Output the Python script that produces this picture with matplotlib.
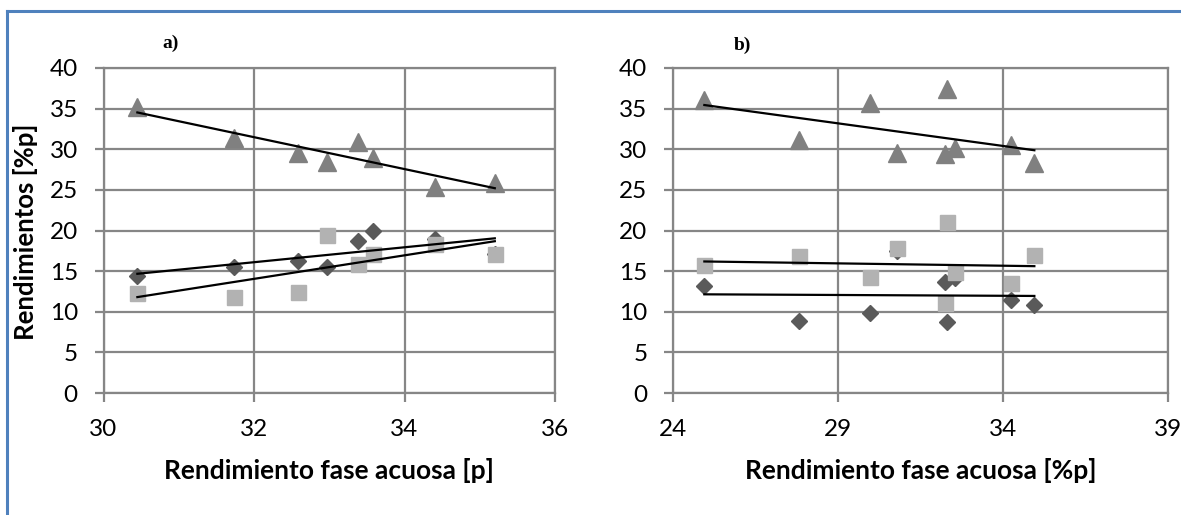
import numpy as np
import matplotlib
matplotlib.use("Agg")
import matplotlib.pyplot as plt
from matplotlib.lines import Line2D

# ---- data: panel a ----
xa = [30.45, 31.73, 32.58, 32.97, 33.38, 33.58, 34.41, 35.2]
tri_a = [35.2, 31.4, 29.6, 28.4, 30.9, 28.9, 25.3, 25.9]
dia_a = [14.4, 15.5, 16.2, 15.5, 18.7, 20.0, 19.0, 17.1]
sq_a = [12.3, 11.8, 12.4, 19.5, 15.9, 17.1, 18.3, 17.1]

# ---- data: panel b ----
xb = [24.95, 27.83, 29.98, 30.8, 32.3, 32.25, 32.55, 34.25, 34.95]
tri_b = [36.1, 31.2, 35.7, 29.5, 37.4, 29.4, 30.1, 30.5, 28.3]
dia_b = [13.2, 8.9, 9.8, 17.5, 8.7, 13.7, 14.1, 11.5, 10.8]
sq_b = [15.7, 16.9, 14.3, 17.9, 21.1, 11.1, 14.9, 13.6, 17.0]

xticks_a = [30, 32, 34, 36]
xticks_b = [24, 29, 34, 39]
yticks = [0, 5, 10, 15, 20, 25, 30, 35, 40]

xlabel_a = "Rendimiento fase acuosa [p]"
xlabel_b = "Rendimiento fase acuosa [%p]"
ylabel = "Rendimientos [%p]"

W, H = 1181, 515
fig = plt.figure(figsize=(W / 100, H / 100), dpi=100)
fig.patch.set_facecolor("white")

GRID = "#868686"
C_TRI = "#808080"
C_DIA = "#5a5a5a"
C_SQ = "#b2b2b2"
FONT = "Lato"


def make_axes(left_px, right_px, xs, tri, dia, sq, xticks, xlabel):
    top_px, bot_px = 68, 393
    ax = fig.add_axes([left_px / W, 1 - bot_px / H, (right_px - left_px) / W, (bot_px - top_px) / H])
    ax.set_xlim(xticks[0], xticks[-1])
    ax.set_ylim(0, 40)
    ax.set_xticks(xticks)
    ax.set_yticks(yticks)
    ax.grid(True, color=GRID, linewidth=1.6)
    ax.set_axisbelow(True)
    for s in ax.spines.values():
        s.set_color(GRID)
        s.set_linewidth(1.6)
    ax.tick_params(direction="out", length=6.5, width=1.6, color=GRID, pad=12,
                   labelsize=17.5)
    for lab in ax.get_xticklabels() + ax.get_yticklabels():
        lab.set_fontfamily(FONT)
    ax.plot(xs, dia, linestyle="none", marker="D", markersize=8.3, color=C_DIA, zorder=3)
    ax.plot(xs, sq, linestyle="none", marker="s", markersize=10.8, color=C_SQ, zorder=4)
    ax.plot(xs, tri, linestyle="none", marker="^", markersize=12.5, color=C_TRI, zorder=5)
    xr = np.array([min(xs), max(xs)])
    for ys in (tri, dia, sq):
        k, b = np.polyfit(xs, ys, 1)
        ax.plot(xr, k * xr + b, color="black", linewidth=1.6, zorder=6)
    ax.set_xlabel(xlabel, fontsize=19, fontweight="bold", fontfamily=FONT, labelpad=13)
    return ax


ax_a = make_axes(103.5, 555, xa, tri_a, dia_a, sq_a, xticks_a, xlabel_a)
ax_b = make_axes(673, 1168, xb, tri_b, dia_b, sq_b, xticks_b, xlabel_b)

fig.text(26 / W, 1 - 232 / H, ylabel, rotation=90, ha="center", va="center",
         fontsize=18.5, fontweight="bold", fontfamily=FONT)
fig.text(171 / W, 1 - 43 / H, "a)", ha="center", va="center", fontsize=14,
         fontweight="bold", fontfamily="Liberation Serif")
fig.text(742 / W, 1 - 45 / H, "b)", ha="center", va="center", fontsize=14,
         fontweight="bold", fontfamily="Liberation Serif")

# blue frame (top and left edges)
BLUE = "#4f81bd"
fig.add_artist(Line2D([7 / W, 1.0], [1 - 11 / H, 1 - 11 / H], color=BLUE, linewidth=2.2,
                      transform=fig.transFigure))
fig.add_artist(Line2D([7 / W, 7 / W], [1 - 11 / H, 0], color=BLUE, linewidth=2.2,
                      transform=fig.transFigure))

fig.savefig("out.png", dpi=100)
